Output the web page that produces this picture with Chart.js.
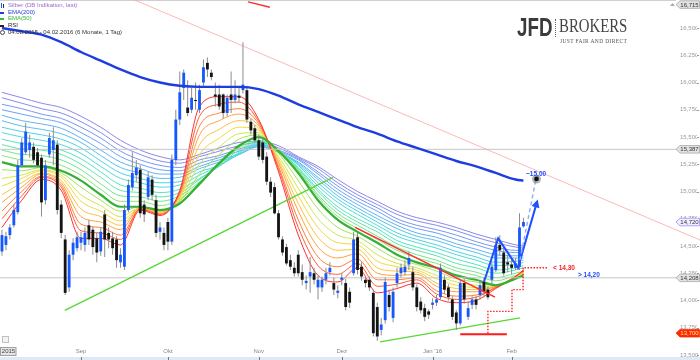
<!DOCTYPE html>
<html><head><meta charset="utf-8">
<script src="https://cdn.jsdelivr.net/npm/chart.js@4.4.1/dist/chart.umd.min.js"></script>
<style>
html,body{margin:0;padding:0;background:#fff;}
#wrap{position:relative;width:700px;height:360px;overflow:hidden;font-family:'Liberation Sans',Arial,sans-serif;}
#c{position:absolute;left:0;top:0;}
.lg{position:absolute;left:8px;font-size:6px;line-height:7px;white-space:nowrap;}
.mk{position:absolute;}
</style></head>
<body><div id="wrap"><canvas id="c" width="700" height="360"></canvas>
<div class="mk" style="left:1px;top:3px;width:1px;height:5px;background:#1658ff"></div>
<div class="mk" style="left:3px;top:4px;width:1px;height:4px;background:#333"></div>
<div class="lg" style="top:2px;color:#9a6ad0">Silber (DB Indikation, last)</div>
<div class="mk" style="left:0;top:12px;width:4px;height:2px;background:#1d3de0"></div>
<div class="lg" style="top:9px;color:#1d3de0">EMA(200)</div>
<div class="mk" style="left:0;top:18px;width:4px;height:2px;background:#38b838"></div>
<div class="lg" style="top:15px;color:#38b838">EMA(50)</div>
<div class="mk" style="left:0;top:25px;width:4px;height:2px;background:#222"></div>
<div class="lg" style="top:22px;color:#222">RSI</div>
<div class="mk" style="left:0;top:30px;width:3px;height:3px;border:1px solid #444;border-radius:50%"></div>
<div class="lg" id="period" style="top:29px;color:#333"></div>
<div style="position:absolute;left:517px;top:15px;font:bold 25px/25px 'Liberation Sans',Arial,sans-serif;color:#3b3b3b;transform:scaleX(0.75);transform-origin:0 0;white-space:nowrap">JFD</div>
<div style="position:absolute;left:555px;top:19px;height:18px;border-left:1px dotted #666"></div>
<div style="position:absolute;left:559px;top:16px;font:19px/19px 'Liberation Serif','Times New Roman',serif;color:#444;transform:scaleX(0.78);transform-origin:0 0;white-space:nowrap">BROKERS</div>
<div style="position:absolute;left:560px;top:38px;font:5.5px/6px 'Liberation Serif','Times New Roman',serif;letter-spacing:0.35px;color:#555;white-space:nowrap">JUST FAIR AND DIRECT</div>
</div>
<script>
// ---------- data ----------
const periodText = '04.08.2015 - 04.02.2016 (6 Monate, 1 Tag)';
const monthIdx = [20, 42, 65, 86, 109, 129];
const monthLabels = ['Sep', 'Okt', 'Nov', 'Dez', "Jan '16", 'Feb'];
const yTicks = [13.75, 14.0, 14.25, 14.5, 14.75, 15.0, 15.25, 15.5, 15.75, 16.0, 16.25, 16.5];

const opens = [14.45,14.51,14.60,14.69,14.81,15.24,15.36,15.38,15.41,15.36,15.31,14.92,15.34,15.38,15.43,14.88,14.56,14.12,14.42,14.48,
14.53,14.51,14.69,14.65,14.57,14.45,14.79,14.62,14.57,14.56,14.35,14.31,14.83,15.04,15.15,15.20,14.88,14.95,15.11,14.92,
14.63,14.62,14.72,14.54,15.29,15.66,15.95,15.77,15.75,15.84,15.75,16.00,16.18,16.09,15.89,15.89,15.89,15.72,15.89,15.84,
15.88,15.93,15.93,15.64,15.58,15.47,15.45,15.32,15.09,15.04,14.80,14.56,14.49,14.37,14.30,14.42,14.26,14.16,14.22,14.25,
14.12,14.12,14.19,14.26,14.16,14.07,14.19,14.16,14.08,14.25,14.58,14.31,14.19,14.19,14.07,13.94,13.73,13.82,14.05,13.84,
14.16,14.25,14.26,14.33,14.26,14.12,13.99,13.93,13.90,13.96,13.98,14.03,14.19,14.12,14.01,13.89,13.79,14.16,13.85,13.96,
14.01,14.05,14.17,14.10,14.19,14.28,14.51,14.44,14.35,14.33,14.30,14.31,14.68];
const highs = [14.65,14.63,14.70,14.88,15.29,15.49,15.63,15.52,15.45,15.40,15.34,15.29,15.54,15.59,15.47,14.92,14.60,14.46,14.57,14.63,
14.63,14.67,14.74,14.68,14.62,14.67,14.83,14.67,14.63,14.59,14.48,14.88,15.11,15.36,15.29,15.24,14.92,15.18,15.15,14.97,
14.72,14.67,14.76,15.34,15.75,16.10,16.12,16.02,15.95,16.00,15.98,16.21,16.23,16.12,16.00,15.98,15.90,15.89,16.10,16.02,
15.95,16.37,15.97,15.67,15.61,15.52,15.49,15.36,15.13,15.08,14.83,14.59,14.52,14.42,14.35,14.46,14.33,14.23,14.40,14.30,
14.23,14.22,14.30,14.35,14.21,14.14,14.25,14.20,14.12,14.63,14.62,14.35,14.22,14.22,14.10,13.98,13.84,14.21,14.10,14.12,
14.30,14.34,14.37,14.45,14.31,14.15,14.03,13.97,13.92,14.02,14.05,14.34,14.23,14.15,14.04,13.91,14.19,14.20,13.99,14.04,
14.04,14.19,14.21,14.13,14.35,14.58,14.60,14.48,14.42,14.40,14.39,14.80,14.76];
const lows = [14.41,14.46,14.56,14.67,14.79,15.22,15.34,15.31,15.26,15.22,14.77,14.88,15.31,15.24,14.79,14.57,14.05,14.08,14.37,14.45,
14.46,14.45,14.51,14.42,14.35,14.41,14.40,14.48,14.42,14.30,14.30,14.28,14.81,15.01,15.09,14.76,14.72,14.92,14.92,14.58,
14.56,14.46,14.46,14.51,15.24,15.61,15.84,15.69,15.72,15.75,15.72,15.96,16.05,16.02,15.78,15.75,15.67,15.69,15.72,15.81,
15.82,15.90,15.63,15.52,15.45,15.29,15.26,15.06,14.95,14.79,14.56,14.41,14.32,14.28,14.22,14.22,14.14,14.10,14.07,14.15,
14.01,14.08,14.15,14.23,14.05,14.02,14.14,13.91,13.93,14.23,14.24,14.18,14.12,14.09,13.67,13.63,13.68,13.79,13.90,13.80,
14.12,14.21,14.23,14.28,14.09,13.90,13.88,13.81,13.83,13.92,13.95,14.01,14.06,14.00,13.82,13.73,13.77,13.97,13.82,13.92,
13.92,14.01,14.03,14.01,14.15,14.26,14.41,14.23,14.26,14.24,14.28,14.28,14.67];
const closes = [14.60,14.59,14.67,14.83,15.24,15.45,15.55,15.45,15.29,15.24,14.90,15.24,15.49,15.47,14.83,14.62,14.07,14.42,14.53,14.58,
14.58,14.62,14.56,14.49,14.44,14.63,14.56,14.56,14.48,14.37,14.42,14.83,15.06,15.17,15.22,14.80,14.79,15.13,14.97,14.62,
14.67,14.51,14.54,15.29,15.66,15.91,16.09,15.72,15.86,15.83,15.93,16.14,16.12,16.05,15.87,15.78,15.72,15.86,15.84,15.89,
15.86,15.98,15.66,15.56,15.47,15.32,15.29,15.09,14.99,14.80,14.58,14.44,14.34,14.31,14.25,14.25,14.19,14.18,14.26,14.19,
14.19,14.19,14.25,14.30,14.10,14.09,14.21,13.94,13.98,14.56,14.28,14.22,14.16,14.12,13.70,13.67,13.78,14.17,13.94,14.08,
14.25,14.30,14.31,14.39,14.12,13.94,13.91,13.85,13.87,13.98,14.01,14.30,14.10,14.03,13.85,13.79,14.16,14.01,13.93,14.01,
13.96,14.14,14.08,14.03,14.31,14.51,14.46,14.25,14.33,14.30,14.34,14.67,14.72];

// moving-average lines at these candle indices
const sampleIdx = [0,5,10,15,20,25,30,35,40,45,50,55,60,65,70,75,80,85,90,95,100,105,110,115,120,125,130,132];
const ema200 = [16.50,16.47,16.44,16.37,16.28,16.20,16.12,16.05,16.00,15.97,15.96,15.96,15.96,15.94,15.88,15.80,15.73,15.66,15.59,15.53,15.46,15.40,15.34,15.28,15.23,15.17,15.11,15.10];
const ema50 = [15.27,15.23,15.23,15.19,15.10,14.97,14.86,14.86,14.83,14.89,15.07,15.26,15.42,15.50,15.37,15.17,14.92,14.74,14.63,14.53,14.42,14.35,14.30,14.23,14.19,14.14,14.20,14.23];
// ribbon lines, shortest (red) to longest (violet)
const rib01 = [14.67,14.92,15.11,15.01,14.57,14.57,14.51,14.83,14.78,15.01,15.78,15.87,15.87,15.66,15.18,14.60,14.23,14.17,14.30,14.07,14.11,14.16,14.02,13.98,14.00,14.11,14.22,14.28];
const rib02 = [14.75,14.96,15.13,15.04,14.64,14.62,14.56,14.84,14.79,15.00,15.69,15.80,15.82,15.64,15.21,14.67,14.32,14.24,14.34,14.13,14.15,14.19,14.06,14.01,14.03,14.12,14.22,14.28];
const rib03 = [14.82,15.00,15.14,15.06,14.70,14.67,14.60,14.84,14.79,14.98,15.60,15.72,15.76,15.62,15.23,14.74,14.40,14.31,14.38,14.19,14.19,14.21,14.09,14.04,14.05,14.12,14.22,14.27];
const rib04 = [14.90,15.04,15.16,15.08,14.77,14.72,14.65,14.85,14.80,14.97,15.52,15.65,15.71,15.60,15.26,14.82,14.49,14.39,14.43,14.25,14.23,14.24,14.13,14.08,14.08,14.13,14.22,14.27];
const rib05 = [14.97,15.08,15.17,15.10,14.84,14.77,14.69,14.85,14.81,14.95,15.43,15.57,15.65,15.58,15.28,14.89,14.58,14.46,14.47,14.30,14.27,14.26,14.16,14.11,14.10,14.13,14.21,14.26];
const rib06 = [15.05,15.12,15.19,15.13,14.91,14.82,14.73,14.85,14.82,14.94,15.34,15.49,15.59,15.56,15.30,14.96,14.67,14.53,14.51,14.36,14.31,14.28,14.20,14.14,14.12,14.13,14.21,14.25];
const rib07 = [15.12,15.15,15.20,15.15,14.97,14.87,14.77,14.85,14.82,14.92,15.25,15.41,15.53,15.54,15.32,15.03,14.75,14.60,14.55,14.42,14.34,14.30,14.23,14.17,14.14,14.13,14.20,14.24];
const rib08 = [15.20,15.19,15.22,15.17,15.04,14.92,14.82,14.86,14.83,14.91,15.16,15.34,15.48,15.52,15.35,15.10,14.84,14.67,14.59,14.48,14.38,14.33,14.27,14.20,14.17,14.14,14.20,14.24];
const rib10 = [15.33,15.29,15.28,15.24,15.15,15.02,14.91,14.91,14.87,14.93,15.08,15.26,15.41,15.49,15.38,15.19,14.95,14.77,14.66,14.56,14.46,14.39,14.34,14.27,14.23,14.18,14.23,14.25];
const rib11 = [15.38,15.34,15.33,15.29,15.20,15.07,14.96,14.95,14.91,14.96,15.09,15.25,15.40,15.47,15.38,15.20,14.97,14.80,14.69,14.59,14.49,14.42,14.37,14.30,14.26,14.21,14.25,14.27];
const rib12 = [15.43,15.39,15.38,15.34,15.25,15.13,15.01,14.99,14.95,14.99,15.11,15.24,15.38,15.46,15.38,15.21,15.00,14.83,14.72,14.63,14.52,14.46,14.41,14.34,14.30,14.25,14.28,14.30];
const rib13 = [15.48,15.44,15.42,15.38,15.30,15.18,15.06,15.03,14.99,15.02,15.12,15.23,15.36,15.45,15.37,15.22,15.02,14.86,14.75,14.66,14.55,14.49,14.44,14.38,14.33,14.28,14.30,14.32];
const rib14 = [15.54,15.50,15.47,15.43,15.35,15.23,15.12,15.08,15.04,15.06,15.15,15.24,15.35,15.44,15.37,15.24,15.05,14.90,14.79,14.69,14.59,14.53,14.48,14.42,14.37,14.32,14.33,14.35];
const rib15 = [15.59,15.55,15.52,15.48,15.40,15.28,15.17,15.12,15.08,15.09,15.18,15.24,15.34,15.42,15.36,15.25,15.08,14.93,14.82,14.72,14.62,14.56,14.51,14.45,14.40,14.35,14.36,14.37];
const rib16 = [15.65,15.60,15.57,15.53,15.45,15.33,15.22,15.17,15.12,15.13,15.21,15.27,15.34,15.42,15.36,15.26,15.11,14.96,14.85,14.75,14.66,14.59,14.55,14.49,14.44,14.39,14.39,14.39];
const rib17 = [15.70,15.65,15.62,15.58,15.49,15.38,15.27,15.21,15.16,15.16,15.23,15.29,15.34,15.41,15.36,15.27,15.13,14.99,14.88,14.78,14.69,14.62,14.58,14.52,14.47,14.42,14.41,14.41];
const rib18 = [15.75,15.71,15.67,15.63,15.54,15.44,15.32,15.25,15.20,15.19,15.26,15.31,15.37,15.42,15.37,15.29,15.16,15.02,14.91,14.82,14.72,14.66,14.62,14.56,14.51,14.46,14.44,14.44];
const rib19 = [15.80,15.76,15.71,15.67,15.59,15.49,15.37,15.29,15.24,15.22,15.29,15.33,15.39,15.43,15.38,15.30,15.18,15.05,14.94,14.85,14.75,14.69,14.65,14.60,14.54,14.49,14.46,14.46];
const rib20 = [15.86,15.81,15.76,15.72,15.64,15.54,15.42,15.34,15.28,15.26,15.32,15.37,15.42,15.45,15.40,15.31,15.21,15.08,14.97,14.88,14.79,14.73,14.69,14.64,14.58,14.53,14.49,14.48];
const rib21 = [15.91,15.86,15.81,15.77,15.69,15.59,15.47,15.38,15.32,15.29,15.34,15.40,15.45,15.46,15.42,15.32,15.23,15.11,15.00,14.91,14.82,14.76,14.72,14.67,14.61,14.56,14.51,14.50];

// drawn analysis (index, price)
const levels = [15.387, 14.208];
const greenTrendA = [[15.9, 13.91], [83.8, 15.13]];
const greenTrendB = [[95.7, 13.62], [131.1, 13.84]];
const redTrend = [[89.4, 14.67], [124.8, 14.03]];
const redFloor = [[116, 13.69], [127.8, 13.69]];
const redTop = [[62.3, 16.74], [67.8, 16.69]];
const pinkTrend = [[33.4, 16.76], [176.7, 14.555]];
const redSteps = [[123, 13.70], [123, 13.90], [129.1, 13.90], [129.1, 14.10], [131.9, 14.10], [131.9, 14.30], [138.2, 14.30]];
const blueZig = [[122.0, 14.17], [125.6, 14.57], [130.6, 14.30], [135.4, 14.90]];
const blueDash = [[131.1, 14.37], [135.1, 15.10]];
const target = [135.3, 15.115];
const notes = [[135.2, 15.16, '~15,00'], [139.5, 14.30, '< 14,30'], [145.8, 14.235, '> 14,20']];
const flagValues = [16.715, 15.387, 14.720, 14.208, 13.700];
const extraTick = 13.5;

document.getElementById('period').textContent = periodText;

// ---------- chart ----------
const fmt = v => v.toFixed(3).replace('.', ',');
const pts = arr => arr.map(p => ({x: p[0], y: p[1]}));
const sampled = arr => sampleIdx.map((x, k) => ({x, y: arr[k]}));
const BLUE = '#1658ff', BLACK = '#141414';

function lineDs(data, color, width, order, extra) {
  return Object.assign({type: 'line', data, borderColor: color, borderWidth: width, pointRadius: 0,
    fill: false, tension: 0, order}, extra || {});
}
const ribbonDefs = [
  [rib01, '#ff3030'], [rib02, '#ff5a34'], [rib03, '#ff7f3a'], [rib04, '#ffa23c'], [rib05, '#ffc23c'],
  [rib06, '#f0da40'], [rib07, '#d4e64a'], [rib08, '#a8e25a'], [rib10, '#86e67a'], [rib11, '#6fe690'],
  [rib12, '#5fe6a8'], [rib13, '#56e4c0'], [rib14, '#50dcd6'], [rib15, '#4fd2e6'], [rib16, '#56c2f0'],
  [rib17, '#62b2f4'], [rib18, '#6ea2f4'], [rib19, '#7a96f2'], [rib20, '#848cf0'], [rib21, '#8e86ec']
];
const datasets = [];
ribbonDefs.forEach(d => datasets.push(lineDs(sampled(d[0]), d[1], 1, 20, {cubicInterpolationMode: 'monotone'})));
datasets.push(lineDs(sampled(ema50), '#34b034', 2.2, 15, {cubicInterpolationMode: 'monotone'}));
levels.forEach(v => datasets.push(lineDs([{x: -0.5, y: v}, {x: 171, y: v}], '#c6c6c6', 1, 14, {clip: false})));
datasets.push(lineDs(pts(pinkTrend), 'rgba(250,160,160,0.75)', 1, 13, {clip: false}));
datasets.push(lineDs(pts(greenTrendA), '#5ad63a', 1.4, 12));
datasets.push(lineDs(pts(greenTrendB), '#5ad63a', 1.4, 12));
datasets.push({type: 'bar', data: lows.map((l, i) => ({x: i, y: [l, highs[i]]})), backgroundColor: '#8c8c8c',
  maxBarThickness: 1, grouped: false, order: 8, minBarLength: 1});
datasets.push({type: 'bar', data: opens.map((o, i) => ({x: i, y: [o, closes[i]]})),
  backgroundColor: closes.map((c, i) => c >= opens[i] ? BLUE : BLACK),
  maxBarThickness: 3, grouped: false, order: 7, minBarLength: 1});
datasets.push(lineDs(sampled(ema200), '#1d3de0', 2.4, 5, {cubicInterpolationMode: 'monotone'}));
datasets.push(lineDs(pts(redTrend), '#ff2a2a', 1.4, 4));
datasets.push(lineDs(pts(redFloor), '#ff1a1a', 2, 4));
datasets.push(lineDs(pts(redTop), '#ff2a2a', 1.4, 4));
datasets.push(lineDs(pts(redSteps), '#ff2020', 1.4, 3, {borderDash: [1.5, 1.5]}));
datasets.push(lineDs(pts(blueDash), '#8fa9ff', 1.4, 2, {borderDash: [4, 3]}));
datasets.push(lineDs(pts(blueZig), '#1f4fff', 2, 2));

const X = v => chartRef.scales.x.getPixelForValue(v);
const Y = v => chartRef.scales.y.getPixelForValue(v);
let chartRef;

const deco = {
  id: 'deco',
  beforeDraw(chart) {
    const c = chart.ctx;
    c.save();
    c.fillStyle = '#fff'; c.fillRect(0, 0, 700, 360);
    c.fillStyle = '#cfcfcf'; c.fillRect(0, 0, 676, 1);
    c.fillStyle = '#dde9f6'; c.fillRect(0, 357, 700, 3);
    c.restore();
  },
  afterDatasetsDraw(chart) {
    chartRef = chart;
    const c = chart.ctx;
    c.save();
    const a = blueZig[blueZig.length - 2], b = blueZig[blueZig.length - 1];
    const x1 = X(a[0]), y1 = Y(a[1]), x2 = X(b[0]), y2 = Y(b[1]);
    const ang = Math.atan2(y2 - y1, x2 - x1);
    c.fillStyle = '#1f4fff';
    c.beginPath();
    c.moveTo(x2 + Math.cos(ang) * 3, y2 + Math.sin(ang) * 3);
    c.lineTo(x2 - Math.cos(ang) * 5 + Math.sin(ang) * 4, y2 - Math.sin(ang) * 5 - Math.cos(ang) * 4);
    c.lineTo(x2 - Math.cos(ang) * 5 - Math.sin(ang) * 4, y2 - Math.sin(ang) * 5 + Math.cos(ang) * 4);
    c.closePath(); c.fill();
    const tx = X(target[0]), ty = Y(target[1]);
    c.fillStyle = 'rgba(120,120,120,0.55)';
    c.beginPath(); c.arc(tx, ty, 4.5, 0, Math.PI * 2); c.fill();
    c.fillStyle = '#111';
    c.beginPath(); c.arc(tx, ty, 2.4, 0, Math.PI * 2); c.fill();
    c.font = 'bold 6.5px "Liberation Sans", Arial, sans-serif';
    c.textBaseline = 'middle';
    notes.forEach((n, k) => {
      c.fillStyle = k === 1 ? '#ff2020' : '#1f4fff';
      c.textAlign = k === 0 ? 'center' : 'left';
      c.fillText(n[2], X(n[0]), Y(n[1]));
    });
    c.restore();
  },
  afterDraw(chart) {
    chartRef = chart;
    const c = chart.ctx;
    c.save();
    c.font = '6px "Liberation Sans", Arial, sans-serif';
    c.fillStyle = '#999';
    yTicks.concat([extraTick]).forEach(v => c.fillRect(697, Math.round(Y(v)), 2, 1));
    c.textAlign = 'left'; c.textBaseline = 'middle';
    c.fillText(fmt(extraTick), 680, Y(extraTick));
    c.fillStyle = '#777';
    monthIdx.forEach(v => c.fillRect(Math.round(X(v)), 357, 1, 3));
    c.fillStyle = '#e6e6e6'; c.strokeStyle = '#a0a0a0';
    c.fillRect(0, 347.5, 16, 8); c.strokeRect(0.5, 347.5, 15.5, 8);
    c.fillStyle = '#444'; c.textAlign = 'center';
    c.fillText('2015', 8.5, 351.7);
    c.fillStyle = '#f3f3f3'; c.strokeStyle = '#c0c0c0';
    c.fillRect(2.5, 336.5, 6, 6); c.strokeRect(2.5, 336.5, 6, 6);
    const styles = [['#e2e2e2', '#a8a8a8', '#333'], ['#e2e2e2', '#a8a8a8', '#333'], ['#f2eeff', '#a58cff', '#333'],
      ['#e2e2e2', '#a8a8a8', '#333'], ['#ff2a00', '#ff2a00', '#ffe9a0']];
    flagValues.forEach((v, k) => {
      const y = Y(v), s = styles[k];
      c.beginPath();
      c.moveTo(676, y); c.lineTo(680, y - 3.8); c.lineTo(699.5, y - 3.8); c.lineTo(699.5, y + 3.8); c.lineTo(680, y + 3.8);
      c.closePath();
      c.fillStyle = s[0]; c.fill();
      c.strokeStyle = s[1]; c.lineWidth = 0.8; c.stroke();
      c.fillStyle = s[2]; c.textAlign = 'center'; c.textBaseline = 'middle';
      c.fillText(fmt(v), 689.5, y + 0.3);
    });
    c.fillStyle = '#aaa';
    c.beginPath(); c.moveTo(670, 6); c.lineTo(672.5, 3); c.lineTo(675, 6); c.closePath(); c.fill();
    c.restore();
  }
};

const zeroPad = s => { s.paddingTop = 0; s.paddingBottom = 0; s.paddingLeft = 0; s.paddingRight = 0; };
Chart.defaults.font.family = '"Liberation Sans", Arial, sans-serif';
Chart.defaults.font.size = 6;
chartRef = new Chart(document.getElementById('c'), {
  type: 'bar',
  data: {datasets},
  options: {
    responsive: false, animation: false, devicePixelRatio: 1,
    layout: {padding: {left: 0, right: 3, top: 0, bottom: 0}},
    plugins: {legend: {display: false}, tooltip: {enabled: false}},
    scales: {
      x: {
        type: 'linear', min: -0.5, max: 161.5, offset: false,
        grid: {display: false, drawTicks: false}, border: {display: false},
        ticks: {autoSkip: false, maxRotation: 0, padding: 5, color: '#888',
          callback: v => { const k = monthIdx.indexOf(v); return k >= 0 ? monthLabels[k] : ''; }},
        afterBuildTicks: s => { s.ticks = monthIdx.map(v => ({value: v})); },
        afterFit: s => { s.height = 17; zeroPad(s); }
      },
      y: {
        type: 'linear', position: 'right', min: 13.61, max: 16.757,
        grid: {display: false, drawTicks: true, tickLength: 38}, border: {display: false},
        ticks: {padding: 2, color: '#999', callback: v => fmt(v)},
        afterBuildTicks: s => { s.ticks = yTicks.map(v => ({value: v})); },
        afterFit: s => { s.width = 57; zeroPad(s); }
      }
    }
  },
  plugins: [deco]
});
</script>
</body></html>
